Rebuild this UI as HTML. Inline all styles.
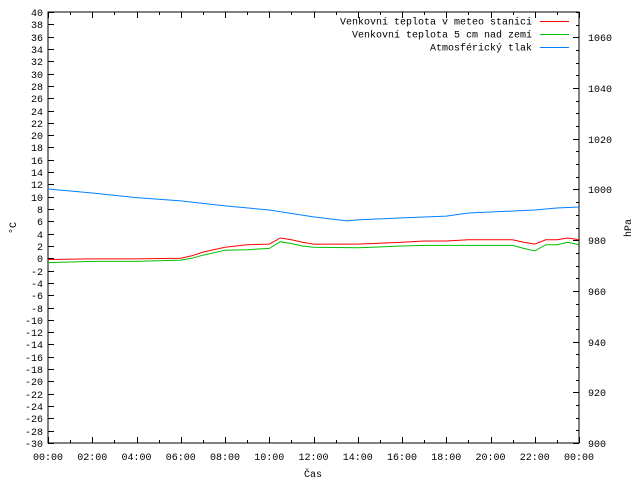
<!DOCTYPE html>
<html><head><meta charset="utf-8"><style>
html,body{margin:0;padding:0;background:#fff;}
svg text{font-family:"Liberation Mono",monospace;font-size:10px;fill:#000;}
</style></head><body>
<svg id="chart" width="640" height="480" xmlns="http://www.w3.org/2000/svg"></svg>
<script>
const hours=[0,2,4,6,6.5,7,8,9,10,10.5,11,11.5,12,14,16,17,18,19,20,21,21.5,22,22.5,23,23.5,24];
const tempStation=[-0.2,-0.1,-0.1,0.0,0.4,1.0,1.8,2.2,2.3,3.3,3.0,2.6,2.3,2.3,2.6,2.8,2.8,3.0,3.0,3.0,2.6,2.3,3.0,3.0,3.3,3.0];
const tempGround=[-0.7,-0.5,-0.5,-0.3,0.0,0.5,1.3,1.4,1.6,2.7,2.4,2.0,1.8,1.7,2.0,2.1,2.1,2.1,2.1,2.1,1.6,1.2,2.2,2.2,2.6,2.2];
const pHours=[0,2,4,6,8,10,12,13.5,14,16,18,19,20,22,23,24];
const pressure=[1000.2,998.6,996.8,995.5,993.5,991.9,989.2,987.6,988.0,988.8,989.5,990.7,991.1,991.9,992.7,993.1];
const yTicks=[];for(let v=-30;v<=40;v+=2)yTicks.push(v);
const y2Ticks=[900,920,940,960,980,1000,1020,1040,1060];
const xLabels=["00:00","02:00","04:00","06:00","08:00","10:00","12:00","14:00","16:00","18:00","20:00","22:00","00:00"];

const L=48,R=579,T=12,B=443;
const sx=h=>L+(R-L)*h/24;
const sy=v=>B-(B-T)*(v+30)/70;
const sy2=v=>B-(B-T)*(v-900)/170;
const svg=document.getElementById('chart');
const NS="http://www.w3.org/2000/svg";
function mk(tag,attrs,parent){const e=document.createElementNS(NS,tag);for(const k in attrs)e.setAttribute(k,attrs[k]);(parent||svg).appendChild(e);return e;}

const axes=mk('g',{});


mk('rect',{x:L,y:T,width:R-L,height:B-T,fill:'none',stroke:'#000','stroke-width':1,'shape-rendering':'crispEdges'},axes);
yTicks.forEach(v=>{
  const y=Math.round(sy(v))+0.5;
  mk('line',{x1:L,x2:L+6,y1:y,y2:y,stroke:'#000','shape-rendering':'crispEdges'},axes);
  const t=mk('text',{x:L-5,y:y+3.5,'text-anchor':'end'},axes);
  t.textContent=v;
  
  
});
for(let v=900;v<=1070;v+=5){
  const y=Math.round(sy2(v))+0.5;
  const len=(v%20===0)?6:3;
  mk('line',{x1:R-len,x2:R,y1:y,y2:y,stroke:'#000','shape-rendering':'crispEdges'},axes);
}
y2Ticks.forEach(v=>{
  const y=Math.round(sy2(v))+0.5;
  const t=mk('text',{x:R+9,y:y+3.5},axes);
  t.textContent=v;
  
  
});
for(let h=0;h<=24;h++){
  const x=Math.round(sx(h))+0.5;const len=h%2===0?6:3;
  mk('line',{x1:x,x2:x,y1:B,y2:B-len,stroke:'#000','shape-rendering':'crispEdges'},axes);
  mk('line',{x1:x,x2:x,y1:T,y2:T+len,stroke:'#000','shape-rendering':'crispEdges'},axes);
}
xLabels.forEach((s,i)=>{
  const t=mk('text',{x:sx(i*2),y:B+17,'text-anchor':'middle'},axes);
  t.textContent=s;
  
  
});
let t=mk('text',{x:313,y:477,'text-anchor':'middle'});t.textContent='Čas';


t=mk('text',{x:16,y:228,'text-anchor':'middle',transform:'rotate(-90 16 228)'});t.textContent='°C';


t=mk('text',{x:631,y:228,'text-anchor':'middle',transform:'rotate(-90 631 228)'});t.textContent='hPa';



function line(xs,ys,f,color,name){
  const p=mk('polyline',{points:xs.map((h,i)=>sx(h).toFixed(1)+','+f(ys[i]).toFixed(1)).join(' '),fill:'none',stroke:color,'stroke-width':1});
  
  
}
line(pHours,pressure,sy2,'#0080ff','pressure-line');
line(hours,tempGround,sy,'#00c000','ground-temp-line');
line(hours,tempStation,sy,'#ff0000','station-temp-line');

const leg=[["Venkovní teplota v meteo stanici","#ff0000"],["Venkovní teplota 5 cm nad zemí","#00c000"],["Atmosférický tlak","#0080ff"]];
leg.forEach((l,i)=>{
  const g=mk('g',{});
  
  
  const y=21+i*13;
  const tx=mk('text',{x:532,y:y+3.5,'text-anchor':'end'},g);tx.textContent=l[0];
  mk('line',{x1:540,x2:569,y1:y+0.5,y2:y+0.5,stroke:l[1]},g);
});
</script>
</body></html>
